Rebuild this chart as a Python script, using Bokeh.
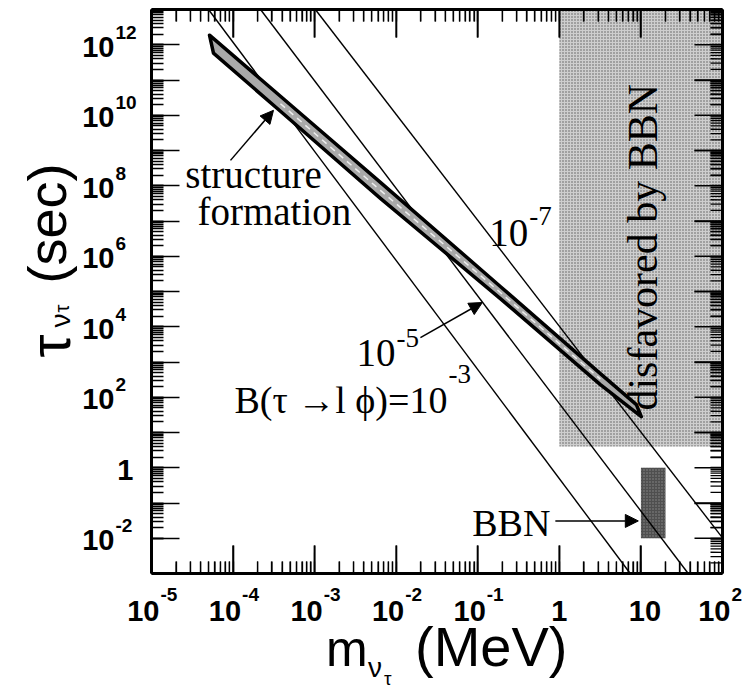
import numpy as np
from math import pi
from bokeh.plotting import figure
from bokeh.models import LogAxis, LogTicker, Label, Arrow, NormalHead, Range1d
from bokeh.embed import file_html
from bokeh.resources import INLINE

# ---------------- data ----------------
x_decades = [-5, -4, -3, -2, -1, 0, 1, 2]           # m_nu_tau (MeV) = 10^e
y_decades = list(range(-3, 14))                      # tau (sec) = 10^e
y_label_decades = [-2, 0, 2, 4, 6, 8, 10, 12]
minor_mult = [2, 3, 4, 5, 6, 7, 8, 9]

# constant-branching-ratio lines B(tau -> l phi) = 1e-3, 1e-5, 1e-7
line_B = ["1e-3", "1e-5", "1e-7"]
line_m_start = [5.0e-5, 2.17e-4, 1.02e-3]
line_tau_start = [1e13, 1e13, 1e13]
line_m_end = [7.4, 38.0, 100.0]
line_tau_end = [1e-3, 1e-3, 1.02e-2]

# structure-formation band (upper edge left->right, tip, lower edge right->left)
band_upper_m = [5.14e-5, 3.81e-4, 6.40e-3, 0.189, 3.18, 8.79]
band_upper_tau = [1.87e12, 3.47e10, 1.25e8, 1.39e5, 468.0, 61.6]
band_tip_m = [10.1]
band_tip_tau = [28.1]
band_lower_m = [3.18, 0.189, 6.40e-3, 3.81e-4, 5.75e-5]
band_lower_tau = [228.0, 6.3e4, 4.39e7, 1.30e10, 5.76e11]

# shaded regions
disfavored_m = [1.0, 100.0]
disfavored_tau = [4.0, 1e13]
bbn_m = [10.0, 20.0]
bbn_tau = [1e-2, 1.0]

# ---------------- layout ----------------
W, H = 754, 695
BOX_L, BOX_R, BOX_T, BOX_B = 151, 722, 9, 573      # pixel box of the axes
XMIN, XMAX = x_decades[0], x_decades[-1]
YMIN, YMAX = y_decades[0], y_decades[-1]
sx = (BOX_R - BOX_L) / (XMAX - XMIN)               # px per decade
sy = (BOX_B - BOX_T) / (YMAX - YMIN)
x_lo = XMIN - BOX_L / sx
x_hi = x_lo + W / sx
y_hi = YMAX + BOX_T / sy
y_lo = y_hi - H / sy

p = figure(width=W, height=H, x_axis_type="log", y_axis_type="log",
           x_range=Range1d(10 ** x_lo, 10 ** x_hi), y_range=Range1d(10 ** y_lo, 10 ** y_hi),
           x_axis_location=None, y_axis_location=None,
           output_backend="svg", toolbar_location=None,
           min_border=0, min_border_left=0, min_border_right=0, min_border_top=0, min_border_bottom=0)
p.xgrid.visible = False
p.ygrid.visible = False
p.outline_line_color = None
p.background_fill_color = "white"
p.border_fill_color = "white"

MAJ_LEN, MIN_LEN = 28, 12

def make_axis(loc, bounds):
    ax = LogAxis(ticker=LogTicker(num_minor_ticks=10, desired_num_ticks=20),
                 fixed_location=loc, bounds=bounds)
    ax.major_tick_in = MAJ_LEN
    ax.major_tick_out = 0
    ax.minor_tick_in = MIN_LEN
    ax.minor_tick_out = 0
    ax.major_tick_line_width = 1.6
    ax.minor_tick_line_width = 1.3
    ax.major_label_text_font_size = "1px"
    ax.major_label_text_alpha = 0
    ax.major_label_standoff = 0
    ax.axis_line_width = 3
    return ax

xb = (10.0 ** XMIN, 10.0 ** XMAX)
yb = (10.0 ** YMIN, 10.0 ** YMAX)
yb_inner = (10.0 ** (YMIN + 1), 10.0 ** (YMAX - 1))   # second y axis: ticks for the odd decades

# shaded regions
p.quad(left=[disfavored_m[0]], right=[disfavored_m[1]], bottom=[disfavored_tau[0]], top=[disfavored_tau[1]],
       fill_color="#cecece", line_color=None, hatch_pattern="dot", hatch_color="#5a5a5a",
       hatch_scale=3, hatch_weight=1)
p.quad(left=[bbn_m[0]], right=[bbn_m[1]], bottom=[bbn_tau[0]], top=[bbn_tau[1]],
       fill_color="#4f4f4f", line_color=None, hatch_pattern="dot", hatch_color="#8c8c8c",
       hatch_scale=3, hatch_weight=1)

# branching-ratio lines
p.segment(x0=line_m_start, y0=line_tau_start, x1=line_m_end, y1=line_tau_end,
          line_color="black", line_width=1.4)

# structure-formation band
bm = band_upper_m + band_tip_m + band_lower_m
bt = band_upper_tau + band_tip_tau + band_lower_tau
p.patch(bm, bt, fill_color="#a9a9a9", line_color="black", line_width=3.5, line_join="round")
cm = band_upper_m[1:5]
ct = list(np.sqrt(np.array(band_upper_tau[1:5]) * np.array(band_lower_tau[::-1][1:5])))
p.line(cm, ct, line_color="#eeeeee", line_width=1.5, line_dash="6 5")

# inward tick marks on the bottom, top and right sides, as segments at the tick values
EPS = 1.0002
x_major = [10.0 ** e for e in x_decades]
x_minor = [k * 10.0 ** e for e in x_decades[:-1] for k in minor_mult]
y_major = [10.0 ** e for e in y_decades]
y_minor = [k * 10.0 ** e for e in y_decades[:-1] for k in minor_mult]
for vals, length, lw in ((x_major, MAJ_LEN, 1.6), (x_minor, MIN_LEN, 1.3)):
    n = len(vals)
    vals2 = [v * EPS for v in vals]
    p.segment(x0=vals, y0=[10.0 ** (YMIN + 0.5 / sy)] * n, x1=vals2, y1=[10.0 ** (YMIN + length / sy)] * n,
              line_color="black", line_width=lw)
    p.segment(x0=vals, y0=[10.0 ** (YMAX - 0.5 / sy)] * n, x1=vals2, y1=[10.0 ** (YMAX - length / sy)] * n,
              line_color="black", line_width=lw)
for vals, length, lw in ((y_major, MAJ_LEN, 1.6), (y_minor, MIN_LEN, 1.3)):
    n = len(vals)
    vals2 = [v * EPS for v in vals]
    p.segment(x0=[10.0 ** (XMAX - 0.5 / sx)] * n, y0=vals, x1=[10.0 ** (XMAX - length / sx)] * n, y1=vals2,
              line_color="black", line_width=lw)

# axes: the box lines (and the left-side ticks)
p.add_layout(make_axis(yb[0], xb), "below")
p.add_layout(make_axis(yb[1], xb), "above")
p.add_layout(make_axis(xb[0], yb), "left")
p.add_layout(make_axis(xb[0], yb_inner), "left")
p.add_layout(make_axis(xb[1], yb), "right")

# ---------------- texts ----------------
SANS = "Liberation Sans"
SERIF = "Liberation Serif"
BASE_FIX = 0.28   # baseline correction, fraction of the font size

def lab(x, y, text, size, font=SANS, align="left", xo=0, yo=0, angle=0.0, style="normal"):
    if angle == 0.0:
        yo = yo + BASE_FIX * size
    else:
        xo = xo - BASE_FIX * size
    p.add_layout(Label(x=x, y=y, text=text, x_offset=xo, y_offset=yo, text_font=font,
                       text_font_size=f"{size}px", text_align=align, text_baseline="alphabetic",
                       angle=angle, text_font_style=style, text_color="black"))

# x tick labels
for e in x_decades:
    x = 10.0 ** e
    if e == 0:
        lab(x, yb[0], "1", 29, align="center", yo=-46, style="bold")
    elif e == 1:
        lab(x, yb[0], "10", 29, align="center", xo=4, yo=-46, style="bold")
    else:
        lab(x, yb[0], "10", 29, align="right", xo=8, yo=-46, style="bold")
        lab(x, yb[0], str(e), 19, align="left", xo=9, yo=-26, style="bold")

# y tick labels
for e in y_label_decades:
    y = 10.0 ** e
    if e == 0:
        lab(xb[0], y, "1", 29, align="right", xo=-18, yo=-10, style="bold")
    else:
        lab(xb[0], y, "10", 29, align="right", xo=-37, yo=-10, style="bold")
        lab(xb[0], y, str(e), 19, align="left", xo=-36, yo=7, style="bold")

# x title  m_{nu_tau} (MeV)
xc = 10.0 ** ((XMIN + XMAX) / 2)
lab(xc, yb[0], "m", 50, xo=-111, yo=-89)
lab(xc, yb[0], "ν", 28, xo=-69, yo=-102)
lab(xc, yb[0], "τ", 19, xo=-53, yo=-110)
lab(xc, yb[0], "(MeV)", 56, xo=-22, yo=-89)

# y title  tau_{nu_tau} (sec)
yc = 10.0 ** ((YMIN + YMAX) / 2)
lab(xb[0], yc, "τ", 58, xo=-86, yo=-66, angle=pi / 2)
lab(xb[0], yc, "ν", 28, xo=-83, yo=-36, angle=pi / 2)
lab(xb[0], yc, "τ", 20, xo=-84, yo=-21, angle=pi / 2)
lab(xb[0], yc, "(sec)", 54, xo=-89, yo=8, angle=pi / 2)

# annotations inside the box
lab(2.6e-5, 1.0e8, "structure", 39, font=SERIF)
lab(3.66e-5, 9.1e6, "formation", 39, font=SERIF)
p.add_layout(Arrow(x_start=9.3e-5, y_start=5.25e8, x_end=3.13e-4, y_end=1.38e10,
                   line_width=1.5, end=NormalHead(size=13, fill_color="black", line_color="black")))

lab(0.417, 2.3e6, "10", 39, font=SERIF, align="right")
lab(0.417, 8.5e6, "-7", 27, font=SERIF, xo=1)

lab(9.77e-3, 902.0, "10", 39, font=SERIF, align="right")
lab(9.77e-3, 2.92e3, "-5", 27, font=SERIF, xo=1)
p.add_layout(Arrow(x_start=0.0198, y_start=4.93e3, x_end=0.1138, y_end=4.87e4,
                   line_width=1.5, end=NormalHead(size=13, fill_color="black", line_color="black")))

lab(0.0424, 41.6, "B(τ →l ϕ)=10", 38, font=SERIF, align="right")
lab(0.0424, 277.0, "-3", 27, font=SERIF, xo=1)

lab(0.776, 0.0133, "BBN", 38, font=SERIF, align="right")
p.add_layout(Arrow(x_start=0.893, y_start=0.031, x_end=9.29, y_end=0.031,
                   line_width=1.5, end=NormalHead(size=13, fill_color="black", line_color="black")))

lab(14.7, 1.8e6, "disfavored by BBN", 42, font=SERIF, align="center", angle=pi / 2)

open("out.html", "w").write(file_html(p, INLINE))
